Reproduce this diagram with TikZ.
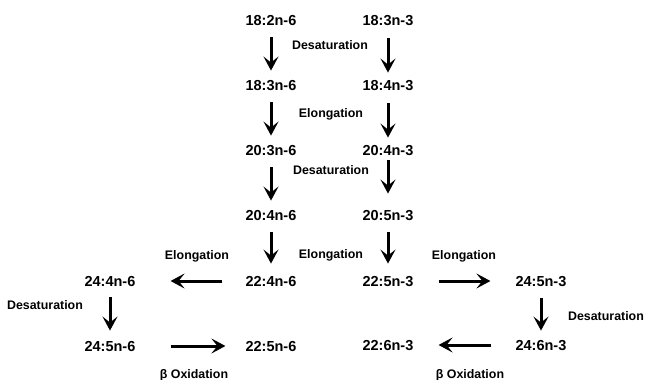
\documentclass[tikz,border=0pt]{standalone}
\usepackage{fontspec}
\setmainfont{Liberation Sans}
\usepackage{tikz}
\usetikzlibrary{arrows.meta}
\usetikzlibrary{positioning}

\begin{document}
\begin{tikzpicture}[x=1pt, y=-1pt]
	\useasboundingbox (0,0) rectangle (646,380);
	\begin{scope}[every node/.style={font=\bfseries\fontsize{14.5}{16}\selectfont, inner sep=0pt, text height=10.5pt, text depth=0pt, anchor=center}]
		% n-6 column
		\node (a1) at (271,20) {18:2n-6};
		\node (a2) at (271,85) {18:3n-6};
		\node (a3) at (271,150) {20:3n-6};
		\node (a4) at (271,215) {20:4n-6};
		\node (a5) at (271,281) {22:4n-6};
		\node (a6) at (271,346) {22:5n-6};
		% n-3 column
		\node (b1) at (388,20) {18:3n-3};
		\node (b2) at (388,85) {18:4n-3};
		\node (b3) at (388,150) {20:4n-3};
		\node (b4) at (388,215) {20:5n-3};
		\node (b5) at (388,281) {22:5n-3};
		\node (b6) at (388,345) {22:6n-3};
		% side branches
		\node (c1) at (110,281) {24:4n-6};
		\node (c2) at (110,346) {24:5n-6};
		\node (d1) at (541,281) {24:5n-3};
		\node (d2) at (541,345) {24:6n-3};
	\end{scope}

	\begin{scope}[every node/.style={font=\bfseries\fontsize{12.4}{14}\selectfont, inner sep=0pt}]
		\node (l1) at (330,45) {Desaturation};
		\node (l2) at (331,114) {Elongation};
		\node (l3) at (331,170) {Desaturation};
		\node (l4) at (331,255) {Elongation};
		\node (l5) at (197,256) {Elongation};
		\node (l6) at (464,256) {Elongation};
		\node (l7) at (45,305) {Desaturation};
		\node (l8) at (606,316) {Desaturation};
		\node (l9) at (194,375) {β Oxidation};
		\node (l10) at (470,375) {β Oxidation};
	\end{scope}

	\begin{scope}[>={Stealth[length=14pt, width=15pt, inset=6pt]},
	              every edge/.style={draw=black, line width=3pt, ->}]
		\path (a1) edge[shorten <=12pt, shorten >=9pt] (a2);
		\path (a2) edge[shorten <=12pt, shorten >=9pt] (a3);
		\path (a3) edge[shorten <=12pt, shorten >=9pt] (a4);
		\path (a4) edge[shorten <=12pt, shorten >=12pt] (a5);
		\path (b1) edge[shorten <=13pt, shorten >=7pt] (b2);
		\path (b2) edge[shorten <=13pt, shorten >=7pt] (b3);
		\path (b3) edge[shorten <=5pt, shorten >=16pt] (b4);
		\path (b4) edge[shorten <=12pt, shorten >=12pt] (b5);
		\path (c1) edge[shorten <=11pt, shorten >=10pt] (c2);
		\path (d1) edge[shorten <=12pt, shorten >=9pt] (d2);
		\path (a5) edge[shorten <=23pt, shorten >=35pt] (c1);
		\path (c2) edge[shorten <=35pt, shorten >=20pt] (a6);
		\path (b5) edge[shorten <=25pt, shorten >=25pt] (d1);
		\path (d2) edge[shorten <=24pt, shorten >=25pt] (b6);
	\end{scope}
\end{tikzpicture}
\end{document}
